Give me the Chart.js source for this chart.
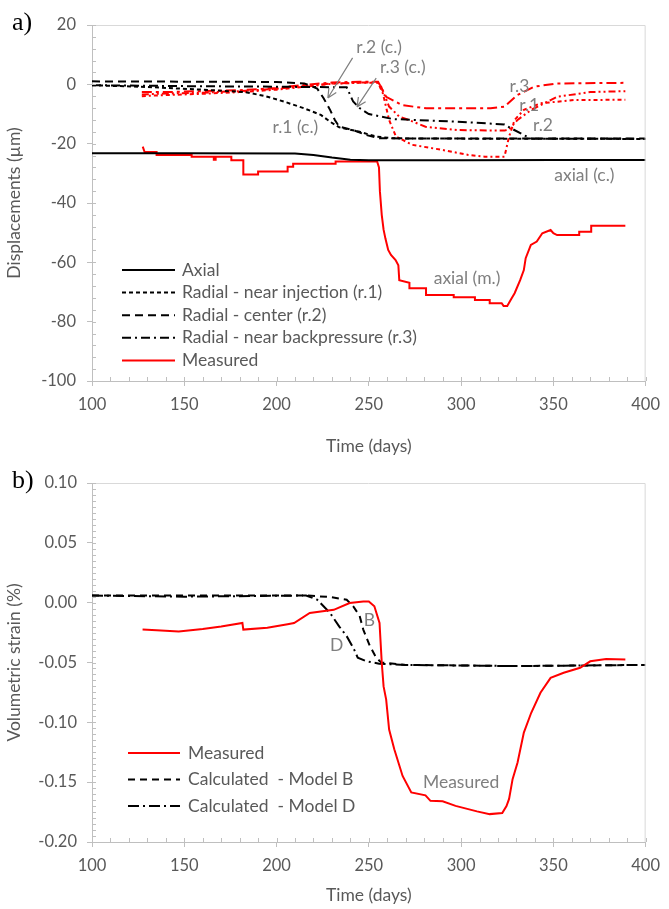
<!DOCTYPE html>
<html><head><meta charset="utf-8">
<script src="https://cdn.jsdelivr.net/npm/chart.js@4.4.1/dist/chart.umd.min.js"></script>
<style>
html,body{margin:0;padding:0;background:#fff;}
#wrap{position:relative;width:669px;height:909px;overflow:hidden;background:#fff;}
canvas{position:absolute;left:0;}
.lab{position:absolute;left:12px;font-family:"Liberation Serif","DejaVu Serif",serif;font-size:26px;line-height:30px;color:#000;}
</style></head><body>
<div id="wrap">
<canvas id="c1" width="669" height="460" style="top:0"></canvas>
<canvas id="c2" width="669" height="449" style="top:460px"></canvas>
<div class="lab" style="top:7px">a)</div>
<div class="lab" style="top:465px">b)</div>
</div>
<script>
// ---------- Chart a) : displacements (µm) vs time (days) ----------
const xTicksDays = [100, 150, 200, 250, 300, 350, 400];
const yTicksA = [-100, -80, -60, -40, -20, 0, 20];
const yTicksB = [-0.20, -0.15, -0.10, -0.05, 0.00, 0.05, 0.10];

const axialCalc = [[100,-23.2],[150,-23.2],[210,-23.3],[220,-23.8],[230,-24.7],[240,-25.4],[250,-25.6],[300,-25.6],[350,-25.5],[400,-25.5]];
const r1Calc = [[100,-0.3],[130,-0.9],[160,-1.8],[183,-2.6],[194,-4],[204,-5.8],[215,-8.1],[224,-10.3],[229,-12.6],[234,-14.5],[245,-16],[254,-17.6],[263,-18.2],[300,-18.3],[400,-18.4]];
const r2Calc = [[100,1.0],[150,0.9],[200,0.8],[215,0.3],[222,-1.4],[225.5,-4.7],[229,-8.6],[231.6,-12],[234,-14.3],[241.5,-15.4],[248.7,-17.1],[255.7,-18.2],[300,-18.3],[400,-18.3]];
const r3Calc = [[100,-0.3],[150,-0.6],[200,-0.8],[238,-1],[241.5,-5.8],[245,-8],[250,-10],[263,-11.7],[298,-12.6],[323.5,-13.5],[327,-14.8],[334,-17.1],[338,-18.3],[400,-18.4]];

const axialMeas = [[127.5,-21],[128.5,-22.8],[135,-22.8],[135,-23.8],[154,-23.8],[154,-24.4],[166,-24.4],[166,-25.4],[167,-25.4],[167,-24.4],[175.5,-24.4],[175.5,-25.6],[182,-25.6],[182,-30.4],[190,-30.4],[190,-29.4],[206,-29.4],[206,-27.8],[209,-27.8],[209,-26.8],[232,-26.8],[232,-26],[254.5,-26],[255.5,-28],[256,-36],[257,-44],[258,-49],[259,-52],[260.5,-55.8],[262,-57.5],[264.5,-59.2],[266,-61],[266.5,-66],[272,-66.9],[272,-68.7],[281,-68.7],[281,-71],[296,-71],[296,-71.8],[307.5,-71.8],[307.5,-72.7],[315.5,-72.7],[315.5,-73.8],[322,-73.8],[323,-74.7],[325,-74.7],[327,-72.5],[329,-70.4],[332,-66],[334,-62.6],[335,-58.6],[337.8,-54.1],[341,-53],[344,-50.2],[348.5,-49.1],[350,-50.2],[352,-50.8],[364,-50.8],[364,-49.7],[370.5,-49.7],[370.5,-47.7],[389,-47.7]];
const r1Meas = [[127,-3.4],[140,-3.1],[160,-2.8],[180,-2.3],[200,-1.5],[215,-0.6],[230,0.3],[245,0.6],[255,0.6],[256.7,-0.8],[261,-7.5],[266.5,-10.9],[271.7,-12],[280.7,-14.3],[298,-15.4],[323.5,-15.6],[326,-15.2],[330.6,-12],[338,-8.6],[348.5,-5.3],[352,-4.2],[370,-2.6],[389,-2.3]];
const r2Meas = [[127,-4],[140,-3.6],[160,-3.2],[180,-2.6],[200,-1.8],[215,-0.8],[230,0.2],[245,0.5],[255,0.5],[257.6,-3],[261,-12],[264.7,-17.6],[273.6,-20.4],[289.7,-22.1],[303.9,-23.8],[312.8,-24.4],[323.5,-24.4],[326,-17.6],[329,-12],[334,-8.6],[343,-6.4],[361,-5.3],[389,-5.2]];
const r3Meas = [[127,-2.6],[140,-2.6],[160,-2.3],[180,-2],[200,-1.2],[215,-0.2],[230,0.6],[245,0.9],[255,0.9],[259.4,-4.2],[268,-7],[281,-8.1],[316,-8.1],[323.5,-7.5],[330.5,-3.6],[339.5,-0.8],[352,0.3],[389,0.5]];

// ---------- Chart b) : volumetric strain (%) vs time (days) ----------
const strainMeas = [[127.4,-0.0225],[135,-0.023],[147,-0.024],[160,-0.022],[170,-0.02],[181.5,-0.017],[182,-0.0225],[195,-0.021],[206,-0.018],[209.5,-0.017],[218,-0.0086],[231,-0.006],[239.6,-0.0003],[247,0.001],[250,0.001],[253,-0.003],[255.8,-0.017],[257,-0.05],[258,-0.07],[259.4,-0.081],[261,-0.106],[263.8,-0.1225],[268.3,-0.1448],[273,-0.1586],[280.7,-0.161],[283.4,-0.1656],[290,-0.166],[297,-0.1698],[308.6,-0.1744],[315.5,-0.1767],[322.3,-0.1758],[324.6,-0.17],[326,-0.164],[327.9,-0.1475],[330.6,-0.1336],[334,-0.1086],[338,-0.092],[343,-0.0753],[348.5,-0.0628],[355.6,-0.0586],[364.5,-0.0544],[370,-0.049],[378.6,-0.047],[389,-0.0475]];
const modelB = [[100,0.006],[150,0.006],[216,0.006],[229,0.0047],[238,0.0025],[241.5,-0.003],[245,-0.011],[247,-0.0225],[250.5,-0.036],[254,-0.046],[256.7,-0.05],[270,-0.052],[330,-0.053],[400,-0.052]];
const modelD = [[100,0.006],[150,0.005],[216,0.006],[222,0.0025],[229,-0.0086],[234,-0.02],[238,-0.028],[242,-0.039],[244,-0.046],[248.7,-0.049],[255.6,-0.051],[270,-0.052],[330,-0.053],[400,-0.052]];

const FONT = 'Lato, "Open Sans", sans-serif';
const TXT = '#595959';
const AX = '#bfbfbf';
const pts = a => a.map(p => ({x: p[0], y: p[1]}));

const decor = {
  id: 'decor',
  afterDatasetsDraw(chart, args, o) {
    const {ctx, chartArea: a, scales: {x, y}} = chart;
    ctx.save();
    ctx.lineWidth = 1;
    ctx.strokeStyle = '#d9d9d9';
    ctx.beginPath();
    ctx.moveTo(a.left, a.top + 0.5); ctx.lineTo(a.right - 0.5, a.top + 0.5); ctx.lineTo(a.right - 0.5, a.bottom);
    ctx.stroke();
    ctx.strokeStyle = AX;
    ctx.beginPath();
    for (let i = 0; ; i++) {
      const v = x.min + i * o.xMinor; if (v > x.max + 1e-9) break;
      const px = Math.round(x.getPixelForValue(v)) + 0.5;
      ctx.moveTo(px, a.bottom); ctx.lineTo(px, a.bottom - 4);
    }
    for (let i = 0; ; i++) {
      const v = y.min + i * o.yMinor; if (v > y.max + 1e-9) break;
      const py = Math.round(y.getPixelForValue(v)) + 0.5;
      ctx.moveTo(a.left, py); ctx.lineTo(a.left + 4, py);
    }
    ctx.stroke();
    // annotations
    ctx.fillStyle = '#7f7f7f';
    ctx.font = '17.5px ' + FONT;
    ctx.textAlign = 'center'; ctx.textBaseline = 'middle';
    (o.notes || []).forEach(n => ctx.fillText(n.t, x.getPixelForValue(n.x), y.getPixelForValue(n.y)));
    ctx.strokeStyle = '#7f7f7f'; ctx.lineWidth = 1.2;
    (o.arrows || []).forEach(r => {
      const x1 = x.getPixelForValue(r.x1), y1 = y.getPixelForValue(r.y1);
      const x2 = x.getPixelForValue(r.x2), y2 = y.getPixelForValue(r.y2);
      const ang = Math.atan2(y2 - y1, x2 - x1);
      ctx.beginPath(); ctx.moveTo(x1, y1); ctx.lineTo(x2, y2);
      for (const s of [-0.45, 0.45]) {
        ctx.moveTo(x2, y2); ctx.lineTo(x2 - 10 * Math.cos(ang + s), y2 - 10 * Math.sin(ang + s));
      }
      ctx.stroke();
    });
    // legend
    const L = o.legend;
    ctx.textAlign = 'left';
    L.items.forEach((idx, k) => {
      const ds = chart.data.datasets[idx];
      const yy = L.y0 + k * L.dy;
      ctx.save();
      ctx.strokeStyle = ds.borderColor; ctx.lineWidth = 2;
      ctx.setLineDash(ds.borderDash || []);
      ctx.beginPath(); ctx.moveTo(a.left + L.l0, yy); ctx.lineTo(a.left + L.l1, yy); ctx.stroke();
      ctx.restore();
      ctx.fillStyle = TXT;
      ctx.fillText(ds.label, a.left + L.tx, yy);
    });
    ctx.restore();
  }
};

function makeChart(id, datasets, o) {
  return new Chart(document.getElementById(id), {
    type: 'line',
    data: {datasets},
    options: {
      responsive: false, animation: false, devicePixelRatio: 1,
      layout: {padding: {left: 0, right: 16, top: o.top, bottom: 0}},
      elements: {point: {radius: 0}, line: {borderWidth: 2, tension: 0, fill: false, borderCapStyle: 'butt'}},
      plugins: {legend: {display: false}, tooltip: {enabled: false}, decor: o.decor},
      scales: {
        x: {
          type: 'linear', min: 100, max: 400,
          ticks: {stepSize: 50, color: TXT, font: {family: FONT, size: 16.5}, padding: 9, maxRotation: 0, autoSkip: false,
                  callback: v => xTicksDays.includes(v) ? String(v) : ''},
          grid: {display: true, drawOnChartArea: false, color: AX, tickLength: 5},
          border: {color: AX, width: 1},
          title: {display: true, text: 'Time (days)', color: TXT, font: {family: FONT, size: 17.5}, padding: {top: 0, bottom: 3}},
          afterFit: s => { s.height = o.xh; }
        },
        y: {
          type: 'linear', min: o.ymin, max: o.ymax,
          ticks: {stepSize: o.ystep, color: TXT, font: {family: FONT, size: 16.5}, padding: o.ypad, autoSkip: false, callback: o.yfmt},
          grid: {display: true, drawOnChartArea: false, color: AX, tickLength: 5},
          border: {color: AX, width: 1},
          title: {display: true, text: o.ytitle, color: TXT, font: {family: FONT, size: 17.5}, padding: {top: 3.5, bottom: 0}},
          afterFit: s => { s.width = 92; }
        }
      }
    },
    plugins: [decor]
  });
}

makeChart('c1', [
  {label: 'Axial', data: pts(axialCalc), borderColor: '#000'},
  {label: 'Radial - near injection (r.1)', data: pts(r1Calc), borderColor: '#000', borderDash: [4, 3]},
  {label: 'Radial - center (r.2)', data: pts(r2Calc), borderColor: '#000', borderDash: [8, 5]},
  {label: 'Radial - near backpressure (r.3)', data: pts(r3Calc), borderColor: '#000', borderDash: [9, 4, 2, 4]},
  {label: 'Measured', data: pts(axialMeas), borderColor: '#ff0000'},
  {label: 'r.1 (m.)', data: pts(r1Meas), borderColor: '#ff0000', borderDash: [7, 3, 2, 3, 2, 3]},
  {label: 'r.2 (m.)', data: pts(r2Meas), borderColor: '#ff0000', borderDash: [4, 3, 2, 3]},
  {label: 'r.3 (m.)', data: pts(r3Meas), borderColor: '#ff0000', borderDash: [10, 4, 3, 4]}
], {
  top: 25, xh: 79, ymin: -100, ymax: 20, ystep: 20, ypad: 11, ytitle: 'Displacements (µm)',
  yfmt: v => yTicksA.includes(v) ? String(v) : '',
  decor: {
    xMinor: 10, yMinor: 4,
    notes: [
      {t: 'r.2 (c.)', x: 255.6, y: 12.6}, {t: 'r.3 (c.)', x: 268.4, y: 5.8}, {t: 'r.1 (c.)', x: 210.2, y: -14.4},
      {t: 'r.3', x: 331.6, y: -0.8}, {t: 'r.1', x: 336.9, y: -7}, {t: 'r.2', x: 344.4, y: -13.7},
      {t: 'axial (c.)', x: 366.8, y: -30.6}, {t: 'axial (m.)', x: 303.2, y: -65.3}
    ],
    arrows: [{x1: 241.2, y1: 8.9, x2: 227.8, y2: -4.6}, {x1: 254, y1: 2.1, x2: 243.6, y2: -7.6}],
    legend: {items: [0, 1, 2, 3, 4], y0: 270, dy: 22.6, l0: 30, l1: 83, tx: 90}
  }
});

makeChart('c2', [
  {label: 'Measured', data: pts(strainMeas), borderColor: '#ff0000'},
  {label: 'Calculated  - Model B', data: pts(modelB), borderColor: '#000', borderDash: [7, 5]},
  {label: 'Calculated  - Model D', data: pts(modelD), borderColor: '#000', borderDash: [11, 4, 2, 4]}
], {
  top: 23, xh: 67, ymin: -0.2, ymax: 0.1, ystep: 0.05, ypad: 10, ytitle: 'Volumetric strain (%)',
  yfmt: v => { const r = Math.round(v * 100) / 100; return Math.abs(r) < 1e-9 ? '0.00' : r.toFixed(2); },
  decor: {
    xMinor: 10, yMinor: 0.005,
    notes: [{t: 'B', x: 250.3, y: -0.0146}, {t: 'D', x: 232.6, y: -0.0355}, {t: 'Measured', x: 300, y: -0.15}],
    arrows: [],
    legend: {items: [0, 1, 2], y0: 293, dy: 26.5, l0: 36, l1: 88, tx: 96}
  }
});
</script>
</body></html>
